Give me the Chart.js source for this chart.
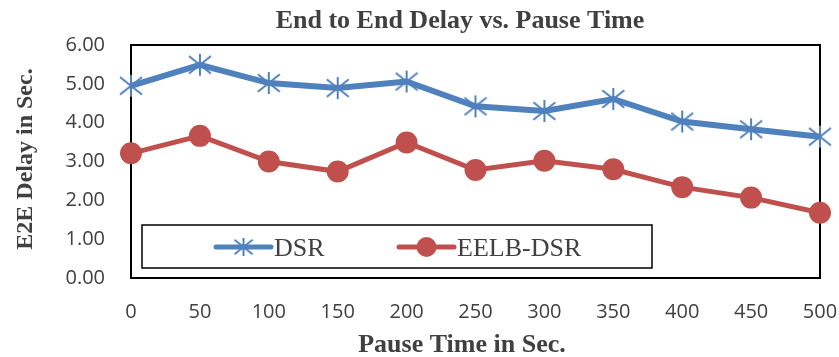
<!DOCTYPE html>
<html>
<head>
<meta charset="utf-8">
<script src="https://cdn.jsdelivr.net/npm/chart.js@4.4.1/dist/chart.umd.min.js"></script>
<style>
  html, body { margin: 0; padding: 0; background: #ffffff; }
  #wrap { width: 839px; height: 357px; position: relative; }
</style>
</head>
<body>
<div id="wrap"><canvas id="c" width="839" height="357"></canvas></div>
<script>
// Pause time (s) and end-to-end delay (s) for each routing protocol
const pauseTimes = [0, 50, 100, 150, 200, 250, 300, 350, 400, 450, 500];
const dsrDelay   = [4.95, 5.49, 5.02, 4.89, 5.06, 4.42, 4.30, 4.61, 4.03, 3.83, 3.64];
const eelbDelay  = [3.21, 3.66, 3.00, 2.74, 3.49, 2.78, 3.02, 2.80, 2.34, 2.07, 1.68];
const seriesNames = ['DSR', 'EELB-DSR'];
const chartTitle = 'End to End Delay vs. Pause Time';
const xTitle = 'Pause Time in Sec.';
const yTitle = 'E2E Delay in Sec.';

const BLUE = '#4F81BD';
const RED = '#C0504D';
const TEXT = '#404040';

const toPoints = vals => vals.map((v, i) => ({ x: pauseTimes[i], y: v }));

// Six-armed asterisk marker (diagonal cross plus vertical bar)
function makeAsterisk(size, color) {
  const c = document.createElement('canvas');
  c.width = size; c.height = size;
  const g = c.getContext('2d');
  const m = size / 2, r = size / 2 - 1;
  g.strokeStyle = color;
  g.lineWidth = 2;
  g.beginPath();
  g.moveTo(m - r, m - r * 0.8); g.lineTo(m + r, m + r * 0.8);
  g.moveTo(m - r, m + r * 0.8); g.lineTo(m + r, m - r * 0.8);
  g.moveTo(m, m - r); g.lineTo(m, m + r);
  g.stroke();
  return c;
}
const starMarker = makeAsterisk(24, BLUE);
const starLegend = makeAsterisk(20, BLUE);

// Plot frame, titles and an inset legend box
const decor = {
  id: 'decor',
  beforeDatasetsDraw(chart) {
    const { ctx, chartArea: a } = chart;
    ctx.save();
    ctx.strokeStyle = '#000';
    ctx.lineWidth = 2;
    ctx.strokeRect(a.left, a.top, a.right - a.left, a.bottom - a.top);
    ctx.restore();
  },
  afterDatasetsDraw(chart) {
    const { ctx } = chart;
    ctx.save();
    ctx.fillStyle = '#fff';
    ctx.fillRect(142, 225, 510, 43);
    ctx.strokeStyle = '#000';
    ctx.lineWidth = 1.5;
    ctx.strokeRect(142, 225, 510, 43);

    const ly = 247;
    const items = [
      { x0: 216, x1: 271, ds: chart.data.datasets[0], marker: starLegend },
      { x0: 399, x1: 454, ds: chart.data.datasets[1], marker: 'circle' }
    ];
    items.forEach(it => {
      ctx.strokeStyle = it.ds.borderColor;
      ctx.fillStyle = it.ds.borderColor;
      ctx.lineWidth = 5;
      ctx.lineCap = 'round';
      ctx.beginPath();
      ctx.moveTo(it.x0, ly);
      ctx.lineTo(it.x1, ly);
      ctx.stroke();
      Chart.helpers.drawPoint(ctx, {
        pointStyle: it.marker,
        radius: 10,
        borderWidth: 0
      }, (it.x0 + it.x1) / 2, ly);
      ctx.fillStyle = TEXT;
      ctx.font = '26px "Liberation Serif"';
      ctx.textBaseline = 'alphabetic';
      ctx.textAlign = 'left';
      ctx.fillText(it.ds.label, it.x1 + 3, ly + 9);
    });
    ctx.restore();
  },
  afterDraw(chart) {
    const { ctx } = chart;
    ctx.save();
    ctx.fillStyle = TEXT;
    ctx.textAlign = 'center';
    ctx.textBaseline = 'alphabetic';
    ctx.font = 'bold 26px "Liberation Serif"';
    ctx.fillText(chartTitle, 460, 28);
    ctx.fillText(xTitle, 462, 352);
    ctx.translate(32, 159);
    ctx.rotate(-Math.PI / 2);
    ctx.font = 'bold 24px "Liberation Serif"';
    ctx.fillText(yTitle, 0, 0);
    ctx.restore();
  }
};

new Chart(document.getElementById('c'), {
  type: 'line',
  data: {
    datasets: [
      {
        label: seriesNames[0],
        data: toPoints(dsrDelay),
        borderColor: BLUE,
        backgroundColor: BLUE,
        borderWidth: 6,
        pointStyle: starMarker,
        pointRadius: 12,
        pointBorderWidth: 0,
        tension: 0,
        clip: false
      },
      {
        label: seriesNames[1],
        data: toPoints(eelbDelay),
        borderColor: RED,
        backgroundColor: RED,
        borderWidth: 5,
        pointStyle: 'circle',
        pointRadius: 11,
        pointBorderWidth: 0,
        pointBorderColor: RED,
        pointBackgroundColor: RED,
        tension: 0,
        clip: false
      }
    ]
  },
  options: {
    responsive: false,
    animation: false,
    devicePixelRatio: 1,
    layout: { padding: { left: 0, top: 45, right: 19, bottom: 0 } },
    plugins: {
      legend: { display: false },
      title: { display: false },
      tooltip: { enabled: false }
    },
    scales: {
      x: {
        type: 'linear',
        min: 0,
        max: 500,
        grid: { display: false },
        border: { display: false },
        ticks: {
          stepSize: 50,
          padding: 14,
          color: TEXT,
          font: { family: '"Open Sans"', size: 20 }
        },
        afterFit(scale) {
          scale.height = 79;
          scale.paddingLeft = 0;
          scale.paddingRight = 0;
        }
      },
      y: {
        min: 0,
        max: 6,
        grid: { display: false },
        border: { display: false },
        ticks: {
          stepSize: 1,
          padding: 18,
          color: TEXT,
          font: { family: '"Open Sans"', size: 20 },
          callback: v => Number(v).toFixed(2)
        },
        afterFit(scale) { scale.width = 131; }
      }
    }
  },
  plugins: [decor]
});
</script>
</body>
</html>
